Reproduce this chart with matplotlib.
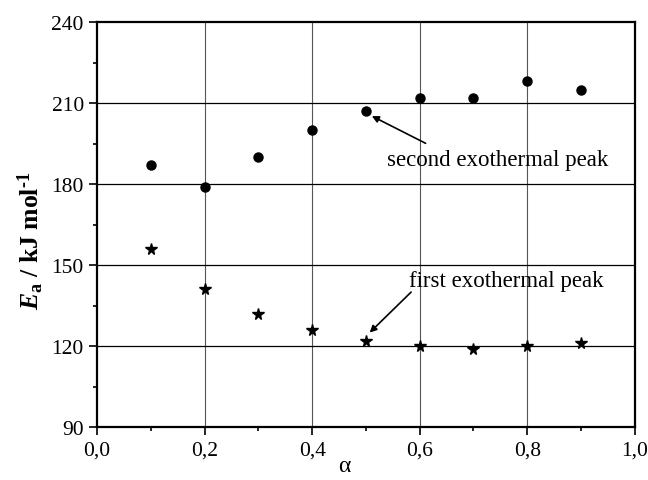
import matplotlib
matplotlib.use("Agg")
import matplotlib.pyplot as plt
from matplotlib.ticker import MultipleLocator, FuncFormatter

plt.rcParams['font.family'] = ['Liberation Serif', 'DejaVu Serif']
plt.rcParams['mathtext.fontset'] = 'custom'
plt.rcParams['mathtext.it'] = 'Liberation Serif:italic:bold'
plt.rcParams['mathtext.rm'] = 'Liberation Serif:bold'
plt.rcParams['mathtext.bf'] = 'Liberation Serif:bold'

alpha = [0.1, 0.2, 0.3, 0.4, 0.5, 0.6, 0.7, 0.8, 0.9]
second_peak = [187, 179, 190, 200, 207, 212, 212, 218, 215]
first_peak = [156, 141, 132, 126, 122, 120, 119, 120, 121]

fig = plt.figure(figsize=(6.48, 4.81), dpi=100)
ax = fig.add_axes([0.1497, 0.110, 0.830, 0.842])

# grid: vertical grey, horizontal black
for xv in [0.2, 0.4, 0.6, 0.8]:
    ax.axvline(xv, color='#555555', lw=0.8, zorder=1)
for yv in [120, 150, 180, 210]:
    ax.axhline(yv, color='black', lw=0.9, zorder=1)

ax.plot(alpha, second_peak, 'o', color='black', ms=6.5, zorder=3)
ax.plot(alpha, first_peak, '*', color='black', ms=8.5, zorder=3)

arrow = dict(arrowstyle='-|>', color='black', lw=1.2,
             shrinkA=0, shrinkB=0, mutation_scale=10)
ax.annotate('', xy=(0.511, 205.2), xytext=(0.611, 195.1), arrowprops=arrow)
ax.annotate('', xy=(0.507, 125.0), xytext=(0.584, 140.0), arrowprops=arrow)
ax.text(0.539, 189.0, 'second exothermal peak', fontsize=16.5, va='center', ha='left')
ax.text(0.58, 144.2, 'first exothermal peak', fontsize=16.5, va='center', ha='left')

ax.set_xlim(0.0, 1.0)
ax.set_ylim(90, 240)
ax.xaxis.set_major_locator(MultipleLocator(0.2))
ax.xaxis.set_minor_locator(MultipleLocator(0.1))
ax.yaxis.set_major_locator(MultipleLocator(30))
ax.yaxis.set_minor_locator(MultipleLocator(15))
ax.xaxis.set_major_formatter(FuncFormatter(lambda v, p: f"{v:.1f}".replace('.', ',')))

ax.tick_params(which='major', direction='out', length=6, width=1.2, labelsize=15.5)
ax.tick_params(which='minor', direction='out', length=3, width=1.2)
ax.tick_params(top=False, right=False)

for s in ax.spines.values():
    s.set_linewidth(1.6)

ax.set_xlabel('α', fontsize=17)
ax.xaxis.set_label_coords(0.46, -0.07)
ax.set_ylabel(r'$E_{\rm a}$ / kJ mol$^{\text{-1}}$', fontsize=18.5, fontweight='bold')
ax.yaxis.set_label_coords(-0.095, 0.462)

fig.savefig('out.png', dpi=100)
